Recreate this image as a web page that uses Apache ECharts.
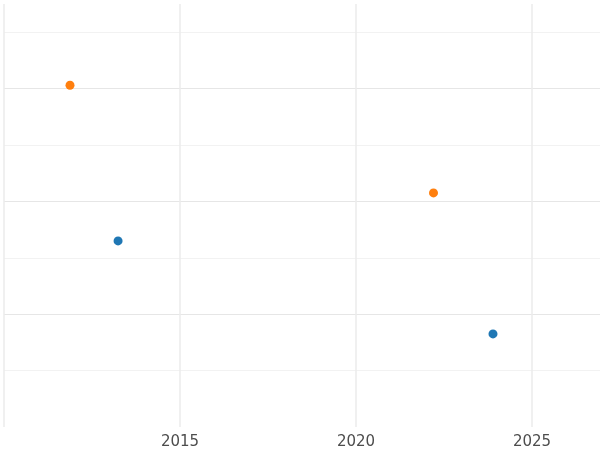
<!DOCTYPE html>
<html><head><meta charset="utf-8">
<script src="https://cdn.jsdelivr.net/npm/echarts@6/dist/echarts.min.js"></script>
<style>html,body{margin:0;padding:0;background:#fff}#c{width:600px;height:450px}</style>
</head><body><div id="c"></div>
<script>
const blueX = [2013.24, 2023.89];
const blueY = [3.30, 1.65];
const orangeX = [2011.875, 2022.2];
const orangeY = [6.06, 4.15];
const xTicks = [2015, 2020, 2025];

const chart = echarts.init(document.getElementById('c'));
chart.setOption({
  backgroundColor: '#fff',
  animation: false,
  grid: {left: 4, right: 0, top: 4, bottom: 23},
  xAxis: {
    type: 'value', min: 2010, max: 2026.93, interval: 5,
    axisLine: {show: false}, axisTick: {show: false},
    axisLabel: {fontSize: 15, color: '#4d4d4d', margin: 8, fontFamily: 'DejaVu Sans',
      formatter: v => xTicks.includes(v) ? String(v) : '', showMaxLabel: false},
    splitLine: {showMaxLine: false, lineStyle: {color: '#ebebeb', width: 1.5}}
  },
  yAxis: {
    type: 'value', min: 0, max: 7.5, interval: 1,
    axisLine: {show: false}, axisTick: {show: false}, axisLabel: {show: false},
    splitLine: {showMaxLine: false, showMinLine: false, lineStyle: {color: ['#f2f2f2', '#e6e6e6'], width: 1.2}}
  },
  series: [
    {type: 'scatter', symbolSize: 9, itemStyle: {color: '#1f77b4', opacity: 1},
     data: blueX.map((x, i) => [x, blueY[i]])},
    {type: 'scatter', symbolSize: 9, itemStyle: {color: '#ff7f0e', opacity: 1},
     data: orangeX.map((x, i) => [x, orangeY[i]])}
  ]
});
</script></body></html>
